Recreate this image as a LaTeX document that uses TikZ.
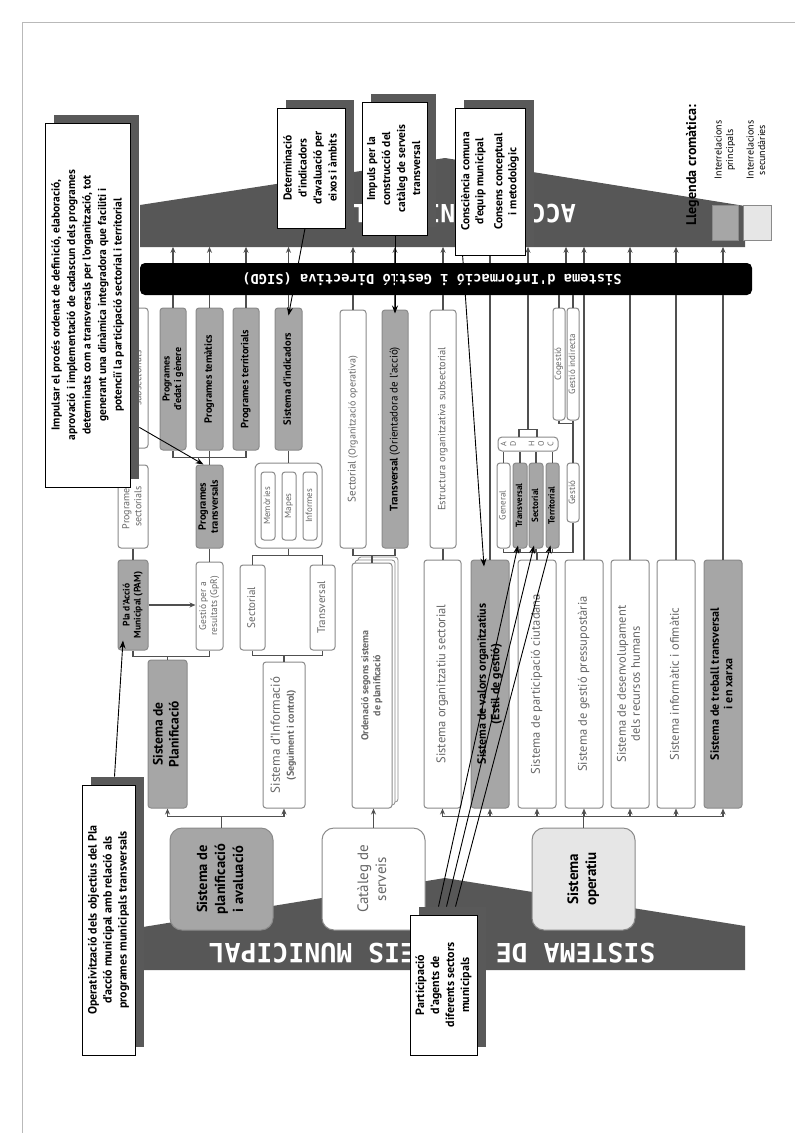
\documentclass[tikz,border=0pt]{standalone}
\usepackage{fontspec}
\setmainfont{PT Sans}
\newfontfamily\monofam{DejaVu Sans Mono}
\usepackage{graphicx}
\usetikzlibrary{arrows.meta,calc,shadows}

\definecolor{bandcol}{HTML}{575757}
\definecolor{shade}{HTML}{595959}
\definecolor{boxgray}{HTML}{A6A6A6}
\definecolor{boxlight}{HTML}{E6E6E6}
\definecolor{boxline}{HTML}{8A8A8A}
\definecolor{txtgray}{HTML}{666666}
\definecolor{linecol}{HTML}{505050}

% text set bottom-to-top inside upright nodes
\newcommand\rt[1]{\rotatebox{90}{\begin{tabular}{@{}c@{}}#1\end{tabular}}}

\tikzset{
  ln/.style={draw=linecol, line width=1.4pt},
  arr/.style={ln, -{Stealth[length=6pt,width=5pt]}},
  callarr/.style={draw=black, line width=0.9pt, -{Stealth[length=8pt,width=6pt]}},
  bx/.style={draw=boxline, line width=1pt, rounded corners=3pt, fill=white, text=txtgray, inner sep=0pt},
  gbx/.style={bx, fill=boxgray, text=black},
  bigbx/.style={bx, rounded corners=12pt},
  sz/.style 2 args={minimum width=#1pt, minimum height=#2pt},
  fr/.style 2 args={font=\fontsize{#1}{#2}\selectfont},
  fb/.style 2 args={font=\bfseries\fontsize{#1}{#2}\selectfont},
  callout/.style={draw=black, line width=0.8pt, fill=white, inner sep=0pt, text=black,
    drop shadow={shadow xshift=9pt, shadow yshift=8pt, fill=shade, opacity=1}},
  bandtext/.style={rotate=180, text=white, font=\monofam\bfseries\fontsize{#1}{#1}\selectfont},
}

\begin{document}
\begin{tikzpicture}[x=1pt,y=-1pt]
\useasboundingbox (0,0) rectangle (795,1133);
\fill[white] (0,0) rectangle (795,1133);
\draw[gray!55, line width=0.6pt] (22,1133) -- (22,22) -- (795,22);

% ---------- bands ----------
\fill[bandcol] (140,247) -- (140,205) -- (445,158) -- (745,206) -- (745,247) -- cycle;
\fill[bandcol] (143,970) -- (143,927) -- (445,878) -- (745,926) -- (745,970) -- cycle;
\node[bandtext=25] (topband) at (463,216) {ACCIÓ MUNICIPAL};
\node[bandtext=26.5] (botband) at (432,953) {SISTEMA DE SERVEIS MUNICIPAL};

% ---------- information bar ----------
\node[fill=black, rounded corners=5pt, sz={612}{32}, inner sep=0pt] (bar) at (446,279) {};
\node[rotate=180, text=white, font=\monofam\bfseries\fontsize{13.7}{14}\selectfont] (bartxt) at (432,279)
  {Sistema d'Informació i Gestió Directiva (SIGD)};

% ---------- programmes column ----------
\node[bx, sz={30}{140}, fr={10}{12}] (subs) at (133,378) {\rt{Programes\\subsectorials}};
\node[bx, sz={30}{83}, fr={10}{12}] (psec) at (133,506.5) {\rt{Programes\\sectorials}};
\node[gbx, sz={30}{90}, fb={9.5}{11}] (pam) at (133,605) {\rt{Pla d'Acció\\Municipal (PAM)}};
\node[bx, sz={27}{88}, fr={9.5}{11}] (gpr) at (209.5,606) {\rt{Gestió per a\\resultats (GpR)}};
\node[gbx, sz={27}{83}, fb={10.5}{12}] (ptrans) at (209.5,506.5) {\rt{Programes\\transversals}};
\node[gbx, sz={26}{142}, fb={10}{11.5}] (pedat) at (173,379) {\rt{Programes\\d'edat i gènere}};
\node[gbx, sz={27}{142}, fb={10.5}{12}] (ptem) at (209.5,379) {\rt{Programes temàtics}};
\node[gbx, sz={26}{142}, fb={10.5}{12}] (pter) at (246,379) {\rt{Programes territorials}};
\node[gbx, sz={27}{142}, fb={10.5}{12}] (sind) at (288.5,379) {\rt{Sistema d'indicadors}};

\node[bx, rounded corners=6pt, sz={67}{85}] (mcont) at (288.5,505.5) {};
\node[bx, sz={14}{68}, fr={9}{10}] (mem) at (268,506) {\rt{Memòries}};
\node[bx, sz={14}{68}, fr={9}{10}] (map) at (289,506) {\rt{Mapes}};
\node[bx, sz={14}{68}, fr={9}{10}] (inf) at (310,506) {\rt{Informes}};

\node[bx, sz={25}{85}, fr={11}{13}] (sisec) at (252.5,607.5) {\rt{Sectorial}};
\node[bx, sz={25}{85}, fr={11}{13}] (sitr) at (322.5,607.5) {\rt{Transversal}};
\node[bx, sz={42}{146}, fr={13}{14}] (sinf) at (284,735)
  {\rt{Sistema d'Informació\\{\bfseries\fontsize{10}{12}\selectfont(Seguiment i control)}}};
\node[gbx, sz={39}{148}, fb={13.5}{16}] (spl) at (167.5,734) {\rt{Sistema de\\Planificació}};
\node[bigbx, fill=boxgray, text=black, sz={103}{102}, fb={14.5}{18}] (spa) at (221.5,879)
  {\rt{Sistema de\\planificació\\i avaluació}};

% ---------- services catalogue ----------
\node[bigbx, sz={103}{102}, fr={15}{18}] (cat) at (373.5,879) {\rt{Catàleg de\\serveis}};
\node[bx, sz={40}{245}, fb={10}{12},
  double copy shadow={shadow xshift=3pt, shadow yshift=3pt, fill=white, draw=boxline, line width=0.8pt}]
  (ord) at (372,685.5) {\rt{Ordenació segons sistema\\de planificació}};
\node[bx, sz={26}{238}, fr={11}{13}] (sorgo) at (353,429)
  {\rt{Sectorial {\fontsize{10}{12}\selectfont(Organització operativa)}}};
\node[gbx, sz={26}{238}, fr={11}{13}] (stror) at (395,429)
  {\rt{\textbf{Transversal} (Orientadora de l'acció)}};

% ---------- operative system ----------
\node[bx, sz={26}{238}, fr={10.5}{12}] (estr) at (443,429) {\rt{Estructura organitzativa subsectorial}};
\node[bx, sz={37}{248}, fr={12.5}{14}] (sos) at (442.5,684) {\rt{Sistema organitzatiu sectorial}};
\node[gbx, sz={38}{248}, fb={12}{13.5}] (sval) at (490,684) {\rt{Sistema de valors organitzatius\\(Estil de gestió)}};
\node[bx, sz={38}{248}, fr={12.5}{14}] (spart) at (537,684) {\rt{Sistema de participació ciutadana}};
\node[bx, sz={38}{248}, fr={12.5}{14}] (spres) at (584,684) {\rt{Sistema de gestió pressupostària}};
\node[bx, sz={38}{248}, fr={12.5}{14}] (srh) at (630,684) {\rt{Sistema de desenvolupament\\dels recursos humans}};
\node[bx, sz={38}{248}, fr={12.5}{14}] (sinfo) at (676,684) {\rt{Sistema informàtic i ofimàtic}};
\node[gbx, sz={38}{248}, fb={12}{13.5}] (strb) at (723,684) {\rt{Sistema de treball transversal\\i en xarxa}};
\node[bigbx, fill=boxlight, text=black, sz={103}{102}, fb={15}{18}] (sop) at (583.5,879) {\rt{Sistema\\operatiu}};

\node[bx, rounded corners=4pt, sz={60}{14}, fr={8}{9.5}] (adhoc) at (528,444) {\rt{A\\D\\[9pt]H\\O\\C}};
\node[bx, sz={13}{85}, fr={9}{10}] (gen) at (503.5,505.5) {\rt{General}};
\node[gbx, sz={14}{85}, fb={9}{10}] (tra) at (520,505.5) {\rt{Transversal}};
\node[gbx, sz={14}{85}, fb={9}{10}] (sect) at (536,505.5) {\rt{Sectorial}};
\node[gbx, sz={13}{85}, fb={9}{10}] (terr) at (552.5,505.5) {\rt{Territorial}};
\node[bx, sz={12}{59}, fr={9}{10}] (gest) at (573,492.5) {\rt{Gestió}};
\node[bx, sz={12}{112}, fr={9}{10}] (coge) at (559,364) {\rt{Cogestió}};
\node[bx, sz={12}{112}, fr={9}{10}] (gind) at (573,364) {\rt{Gestió indirecta}};

% ---------- links between the bar, the band and the columns ----------
\coordinate (cgmid) at ($(coge.north)!0.5!(gind.north)$);
\foreach \n in {subs,pedat,ptem,pter,sind,sorgo,stror,estr,sval,adhoc,cgmid,spres,srh,sinfo,strb}
  \draw[arr] (\n |- bar.north) -- ++(0,-16);
\foreach \n in {subs,pedat,ptem,pter,sind,sorgo,stror,estr,sval,coge,gind,spres,srh,sinfo,strb}
  \draw[ln] (\n.north |- bar.south) -- (\n.north);
\coordinate (b16) at ($(adhoc.north)+(0,-7)$);
\draw[ln] (b16 |- bar.south) -- (b16);
\draw[ln] ([xshift=-9pt]adhoc.north) |- (b16) -| ([xshift=9pt]adhoc.north);

% programmes and planning
\draw[ln] (subs) -- (psec);
\draw[ln] (psec) -- (pam);
\draw[arr] (pam.east) -- (pam.east -| gpr.west);
\draw[ln] (ptrans) -- (gpr);
\draw[ln] (pedat.south) -- ++(0,7) -| (pter.south);
\draw[ln] (ptem.south) -- (ptrans.north);
\coordinate (b1) at ($(pam.south)+(0,6)$);
\draw[ln] (pam.south) -- (b1) -| (gpr.south);
\draw[ln] (spl.north) -- (spl.north |- b1);
\coordinate (b2) at ($(spa.north)+(0,-11)$);
\draw[ln] (spa.north) -- (b2);
\draw[ln] (b2 -| spl.south) -- (b2 -| sinf.south);
\draw[arr] (b2 -| spl.south) -- (spl.south);
\draw[arr] (b2 -| sinf.south) -- (sinf.south);

% indicators and information system
\draw[ln] (sind) -- (mcont);
\coordinate (b7) at ($(mcont.south)+(0,7)$);
\draw[ln] (mcont.south) -- (b7);
\draw[ln] (sisec.north) |- (b7) -| (sitr.north);
\coordinate (b8) at ($(sinf.north)+(0,-6)$);
\draw[ln] (sisec.south) |- (b8) -| (sitr.south);
\draw[ln] (b8) -- (sinf.north);

% services catalogue
\draw[arr] (cat.north) -- (cat.north |- ord.south);
\coordinate (b10) at ($(ord.north)+(0,-7)$);
\draw[ln] (sorgo.south) |- (b10) -| (stror.south);
\draw[ln] (b10) -- (ord.north);

% operative system
\draw[ln] (estr.south) -- (estr.south |- sos.north);
\coordinate (b12) at ($(sop.north)+(0,-11)$);
\draw[ln] (sop.north) -- (b12);
\draw[ln] (b12 -| sos.south) -- (b12 -| strb.south);
\foreach \n in {sos,sval,spart,spres,srh,sinfo,strb}
  \draw[arr] (b12 -| \n.south) -- (\n.south);
\foreach \n in {gen,tra,sect,terr}
  \draw[ln] (\n.north) -- (\n.north |- adhoc.south);
\coordinate (b14) at ($(spart.north)+(0,-7)$);
\draw[ln] (gen.south) -- (gen.south |- b14) -- (gest.south |- b14) -- (gest.south);
\foreach \n in {tra,sect,terr}
  \draw[ln] (\n.south) -- (\n.south |- b14);
\draw[ln] (b14) -- (spart.north);
\coordinate (b15) at ($(coge.south)+(0,3)$);
\draw[ln] (coge.south) -- (b15) -- (b15 -| gind.south) -- (gind.south);
\draw[ln] (b15 -| gest.north) -- (gest.north);

% ---------- callouts ----------
\node[callout, sz={85}{364}, fb={11.5}{15.5}] (c1) at (87.5,305)
  {\rt{Impulsar el procés ordenat de definició, elaboració,\\aprovació i implementació de cadascun dels programes\\determinats com a transversals per l'organització, tot\\generant una dinàmica integradora que faciliti i\\potenciï la participació sectorial i territorial}};
\node[callout, sz={68}{120}, fb={11.5}{15}] (c2) at (311,168)
  {\rt{Determinació\\d'indicadors\\d'avaluació per\\eixos i àmbits}};
\node[callout, sz={65}{133}, fb={11.5}{15}] (c3) at (394.5,168.5)
  {\rt{Impuls per la\\construcció del\\catàleg de serveis\\transversal}};
\node[callout, sz={70}{147}, fb={11.5}{14}] (c4) at (490,181.5)
  {\rt{Consciència comuna\\d'equip municipal\\[5pt]Consens conceptual\\i metodològic}};
\node[callout, sz={53}{270}, fb={12}{15}] (c5) at (108.5,920)
  {\rt{Operativització dels objectius del Pla\\d'acció municipal amb relació als\\programes municipals transversals}};
\node[callout, sz={67}{140}, fb={12}{15}] (c6) at (443.5,985)
  {\rt{Participació\\d'agents de\\diferents sectors\\municipals}};

\draw[callarr] ($(c1.south east)+(9,-60)$) -- ($(ptrans.north)+(-6,0)$);
\draw[callarr] ($(c5.north)+(6,-8)$) -- ($(pam.south)+(-10,-10)$);
\draw[callarr] ($(c2.south)+(-6,0)$) -- ($(sind.north)+(0,8)$);
\draw[callarr] (stror.north |- c3.south) -- ($(stror.north)+(0,4)$);
\draw[callarr] ($(c4.south west)+(8,0)$) -- ($(sval.north)+(-6,7)$);
\draw[callarr] ($(c6.north)+(-5,-8)$) -- ($(tra.south)+(-2,-3)$);
\draw[callarr] ($(c6.north)+(3,-8)$) -- ($(sect.south)+(-2,-3)$);
\draw[callarr] ($(c6.north)+(12,-8)$) -- ($(terr.south)+(-2,-3)$);

% ---------- colour key ----------
\node[fb={14}{16}, text=black, inner sep=0pt] (lgt) at (693,165) {\rt{Llegenda cromàtica:}};
\node[draw=boxline, line width=0.8pt, fill=boxgray, sz={26}{35}, inner sep=0pt] (lq1) at (725,222.5) {};
\node[draw=boxline, line width=0.8pt, fill=boxlight, sz={28}{35}, inner sep=0pt] (lq2) at (757,222.5) {};
\node[fr={10}{11.5}, text=black, inner sep=0pt] (lt1) at (725,150) {\rt{Interrelacions\\principals}};
\node[fr={10}{11.5}, text=black, inner sep=0pt] (lt2) at (757,150) {\rt{Interrelacions\\secundàries}};
\end{tikzpicture}
\end{document}
